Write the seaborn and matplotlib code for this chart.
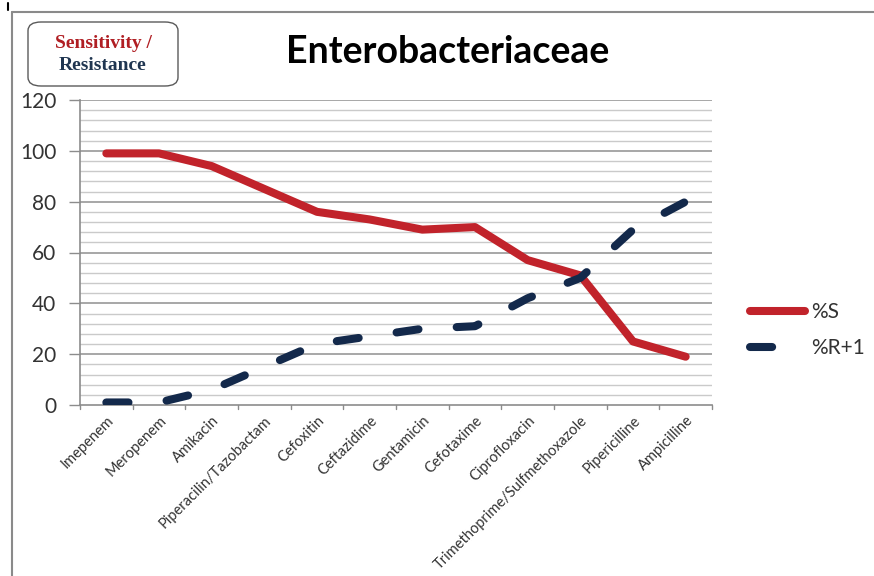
import matplotlib
matplotlib.use("Agg")
import matplotlib.pyplot as plt
from matplotlib.patches import FancyBboxPatch
from matplotlib.lines import Line2D
import numpy as np
import pandas as pd
import seaborn as sns

drugs = ["Imepenem", "Meropenem", "Amikacin", "Piperacilin/Tazobactam",
         "Cefoxitin", "Ceftazidime", "Gentamicin", "Cefotaxime",
         "Ciprofloxacin", "Trimethoprime/Sulfmethoxazole", "Pipericilline",
         "Ampicilline"]
pct_s = [99, 99, 94, 85, 76, 73, 69, 70, 57, 51, 25, 19]
pct_r1 = [1, 1, 6, 15, 24, 27, 30, 31, 42, 50, 69, 80]
y_ticks = [0, 20, 40, 60, 80, 100, 120]

RED = "#C1232B"
NAVY = "#13294B"

sns.set_theme(style="white")
plt.rcParams["font.family"] = ["Lato", "DejaVu Sans"]

df = pd.DataFrame({"drug": drugs, "S": pct_s, "R1": pct_r1})

fig = plt.figure(figsize=(8.74, 5.76), dpi=100)
ax = fig.add_axes([80 / 874, 1 - 405 / 576, (712 - 80) / 874, (405 - 100) / 576])

# horizontal grid: light lines every 4, darker every 20
for v in np.arange(4, 121, 4):
    major = v % 20 == 0
    ax.axhline(v, color="#a0a0a0" if major else "#cacaca",
               lw=1.3 if major else 1.0, zorder=0)

sns.lineplot(data=df, x="drug", y="S", sort=False, ax=ax, color=RED,
             lw=5.8, solid_capstyle="round", solid_joinstyle="round",
             label="%S", zorder=3)
sns.lineplot(data=df, x="drug", y="R1", sort=False, ax=ax, color=NAVY,
             lw=5.8, linestyle=(0, (2.75, 4.75)), dash_capstyle="round",
             dash_joinstyle="round", label="%R+1", zorder=4)

n = len(drugs)
ax.set_xlim(-0.5, n - 0.5)
ax.set_ylim(0, 120)
ax.set_xlabel("")
ax.set_ylabel("")

ax.set_yticks(y_ticks)
ax.set_yticklabels([str(v) for v in y_ticks], fontsize=15, color="#333333")
ax.set_xticks(range(n))
ax.set_xticklabels(drugs, rotation=45, ha="right", rotation_mode="anchor",
                   fontsize=10.5, color="#333333")
ax.tick_params(axis="x", length=0, pad=6)
ax.tick_params(axis="y", length=8, width=1, color="#8c8c8c", direction="out", pad=9, left=True)

# category boundary ticks on the x axis
for b in np.arange(-0.5, n, 1.0):
    ax.plot([b, b], [0, -1.6], color="#8c8c8c", lw=1, clip_on=False, zorder=1)

for s in ["top", "right"]:
    ax.spines[s].set_visible(False)
for s in ["left", "bottom"]:
    ax.spines[s].set_color("#8c8c8c")
    ax.spines[s].set_linewidth(1.2)

leg = ax.legend(loc="center left", bbox_to_anchor=(750 / 874, 1 - 330 / 576),
                bbox_transform=fig.transFigure, frameon=False, fontsize=15,
                handlelength=2.65, handletextpad=0.3, labelspacing=0.75,
                borderpad=0, borderaxespad=0)
for t in leg.get_texts():
    t.set_color("#333333")

# title
fig.text(448 / 874, 1 - 52 / 576, "Enterobacteriaceae", ha="center", va="center",
         fontsize=27, fontweight="bold", color="black")

# rounded caption box
box = FancyBboxPatch((28 / 874, 1 - 86 / 576), 150 / 874, 64 / 576,
                     boxstyle="round,pad=0,rounding_size=0.015",
                     transform=fig.transFigure, facecolor="white",
                     edgecolor="#5a5a5a", lw=1.0)
fig.patches.append(box)
fig.text(103 / 874, 1 - 44 / 576, "Sensitivity /", ha="center", va="center",
         fontsize=14, fontweight="bold", color="#B01E23",
         family="Liberation Serif")
fig.text(103 / 874, 1 - 65 / 576, "Resistance", ha="center", va="center",
         fontsize=14, fontweight="bold", color="#1F3550",
         family="Liberation Serif")

# outer frame lines
fig.add_artist(Line2D([12 / 874, 1], [1 - 12 / 576, 1 - 12 / 576],
                      transform=fig.transFigure, color="#8a8a8a", lw=1.5))
fig.add_artist(Line2D([12 / 874, 12 / 874], [0, 1 - 12 / 576],
                      transform=fig.transFigure, color="#8a8a8a", lw=1.5))
fig.add_artist(Line2D([8 / 874, 8 / 874], [1 - 10 / 576, 1 - 3 / 576],
                      transform=fig.transFigure, color="black", lw=1.5))

fig.savefig("out.png", dpi=100)
